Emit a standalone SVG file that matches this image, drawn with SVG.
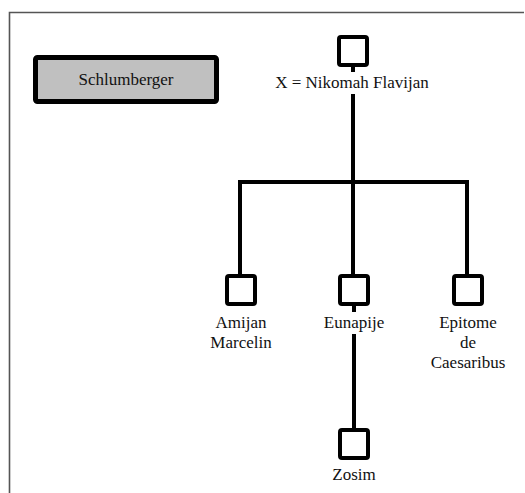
<svg xmlns="http://www.w3.org/2000/svg" width="525" height="493" viewBox="0 0 525 493">
<style>
.t{font-size:17px;fill:#111;text-anchor:middle}
.sq{fill:#fff;stroke:#000;stroke-width:4}
.ln{stroke:#000;stroke-width:4;fill:none;stroke-linecap:butt}
</style>
<rect width="525" height="493" fill="#fff"/>
<path d="M9.5 493 V12.5 H524" fill="none" stroke="#555" stroke-width="1.6"/>
<g id="legend">
<rect x="35.5" y="57.5" width="181" height="44" fill="#c0c0c0" stroke="#000" stroke-width="5" rx="2"/>
<text class="t" font-family="Liberation Serif, serif" x="126" y="85" font-size="16.5">Schlumberger</text>
</g>
<g id="connectors">
<path class="ln" d="M353 65 V72"/>
<path class="ln" d="M353 94 V182"/>
<path class="ln" d="M240 275 V182 H467 V275"/>
<path class="ln" d="M353 182 V275"/>
<path class="ln" d="M354 305 V312"/>
<path class="ln" d="M354 334 V429"/>
</g>
<g id="nikomah">
<rect class="sq" x="339" y="37" width="28" height="28" rx="2"/>
<text class="t" font-family="Liberation Serif, serif" x="352" y="88">X = Nikomah Flavijan</text>
</g>
<g id="amijan">
<rect class="sq" x="227" y="276" width="28" height="28" rx="2"/>
<text class="t" font-family="Liberation Serif, serif" x="241" y="328">Amijan</text>
<text class="t" font-family="Liberation Serif, serif" x="241" y="348">Marcelin</text>
</g>
<g id="eunapije">
<rect class="sq" x="340" y="276" width="28" height="28" rx="2"/>
<text class="t" font-family="Liberation Serif, serif" x="354" y="328">Eunapije</text>
</g>
<g id="epitome">
<rect class="sq" x="454" y="276" width="28" height="28" rx="2"/>
<text class="t" font-family="Liberation Serif, serif" x="468" y="328">Epitome</text>
<text class="t" font-family="Liberation Serif, serif" x="468" y="348">de</text>
<text class="t" font-family="Liberation Serif, serif" x="468" y="368">Caesaribus</text>
</g>
<g id="zosim">
<rect class="sq" x="340" y="430" width="28" height="28" rx="2"/>
<text class="t" font-family="Liberation Serif, serif" x="354" y="480">Zosim</text>
</g>
</svg>
